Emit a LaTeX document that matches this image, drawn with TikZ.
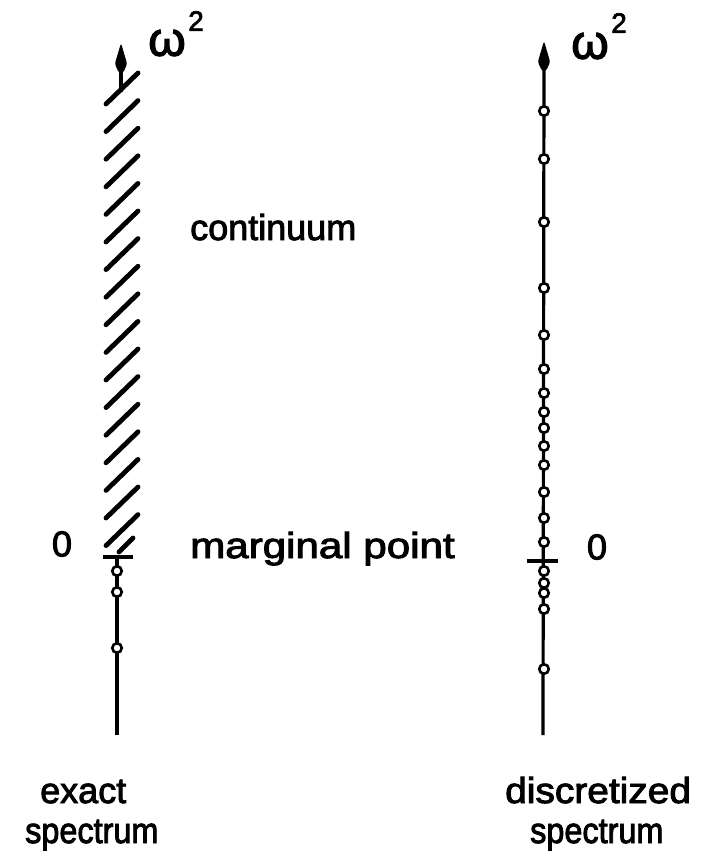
\documentclass[tikz,border=0pt]{standalone}
\usepackage{fontspec}
\setmainfont{Liberation Sans}
\newfontfamily\penfont{Liberation Sans}[FakeBold=2.5]
\usetikzlibrary{arrows.meta, positioning}

\begin{document}
\begin{tikzpicture}[x=1pt, y=-1pt,
        axis/.style={line width=3.2pt},
        hatch/.style={line width=4.8pt, line cap=round},
        level/.style={circle, draw, fill=white, line width=2.6pt, inner sep=0pt, minimum size=9.5pt},
        zeroline/.style={line width=4.8pt},
        tiphead/.style={fill, rounded corners=2.5pt},
        lbl/.style={font=\penfont\fontsize{36}{40}\selectfont, inner sep=0pt, anchor=base west},
        omega/.style={font=\penfont\fontsize{48}{48}\selectfont, inner sep=0pt},
        sqr/.style={font=\penfont\fontsize{28}{28}\selectfont, inner sep=0pt}
    ]
        \useasboundingbox (0,0) rectangle (701,859);
        % exact spectrum
        \coordinate (lfoot) at (117,735);
        \coordinate (lzero) at (117,557);
        \coordinate (lbase) at (121,92);
        \coordinate (lhead) at (121,68);
        \coordinate (ltip) at (121,43);
        \draw[axis] (lfoot) -- (lzero);
        \draw[axis] (lbase) -- (lhead);
        \path[tiphead] (ltip) -- ++(6.2,21) -- ++(-4.2,9) -- ++(-4,0) -- ++(-4.2,-9) -- cycle;
        \foreach \k in {0,...,16}
            \draw[hatch] (138,73+27.6*\k) -- (106,104+27.6*\k);
        \draw[hatch] (133,538) -- (119,552);
        \draw[zeroline] (103,557) -- (133,557);
        \foreach \y [count=\i] in {571,592,648}
            \node[level] (l\i) at (117,\y) {};
        \node[inner sep=0pt, font=\penfont\fontsize{36}{40}\selectfont] (lnull) at (62,544) {0};
        \node[omega] (lw) at (167,43) {ω};
        \node[sqr] (lw2) at (196,21) {2};
        % discretized spectrum
        \coordinate (rfoot) at (543,735);
        \coordinate (rhead) at (544,66);
        \coordinate (rtip) at (544,41);
        \draw[axis] (rfoot) -- (rhead);
        \path[tiphead] (rtip) -- ++(6.2,21) -- ++(-4.2,9) -- ++(-4,0) -- ++(-4.2,-9) -- cycle;
        \draw[zeroline] (527,561) -- (558,561);
        \foreach \y [count=\i] in {111,159,222,288,335,369,393,412,428,446,465,492,518,542,571,583,593,609,669}
            \node[level] (r\i) at (544,\y) {};
        \node[inner sep=0pt, font=\penfont\fontsize{36}{40}\selectfont] (rnull) at (597,547) {0};
        \node[omega] (rw) at (590,46) {ω};
        \node[sqr] (rw2) at (619,23) {2};
        % texts
        \node[lbl] (cont) at (190,240) {continuum};
        \node[lbl] (marg) at (190,558) {\scalebox{1.17}[1]{marginal point}};
        \node[lbl] (ex1) at (40,803) {exact};
        \node[lbl] (ex2) at (25,843) {\scalebox{0.9}[1]{spectrum}};
        \node[lbl] (ds1) at (505,803) {\scalebox{1.08}[1]{discretized}};
        \node[lbl] (ds2) at (530,843) {\scalebox{0.9}[1]{spectrum}};
    \end{tikzpicture}
\end{document}
